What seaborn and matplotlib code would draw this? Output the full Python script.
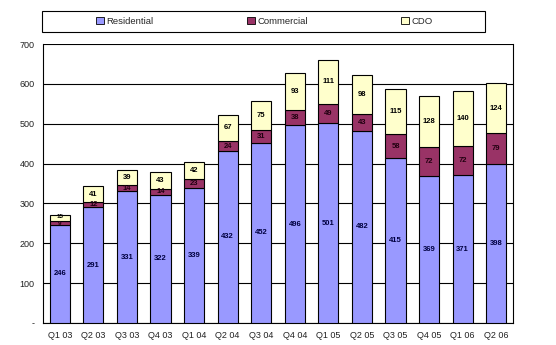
import matplotlib
matplotlib.use("Agg")
import matplotlib.pyplot as plt
import seaborn as sns
import pandas as pd
import numpy as np
from matplotlib.patches import Rectangle, Patch

quarters = ["Q1 03", "Q2 03", "Q3 03", "Q4 03", "Q1 04", "Q2 04", "Q3 04",
            "Q4 04", "Q1 05", "Q2 05", "Q3 05", "Q4 05", "Q1 06", "Q2 06"]
residential = [246, 291, 331, 322, 339, 432, 452, 496, 501, 482, 415, 369, 371, 398]
commercial = [9, 12, 14, 14, 23, 24, 31, 38, 49, 43, 58, 72, 72, 79]
cdo = [15, 41, 39, 43, 42, 67, 75, 93, 111, 98, 115, 128, 140, 124]
yticks = [0, 100, 200, 300, 400, 500, 600, 700]
ytick_labels = ["-", "100", "200", "300", "400", "500", "600", "700"]

sns.set_theme(style="white")
plt.rcParams['font.family'] = ['Liberation Sans', 'DejaVu Sans']

df = pd.DataFrame({"quarter": quarters, "Residential": residential,
                   "Commercial": commercial, "CDO": cdo})
df["b2"] = df["Residential"]
df["b3"] = df["Residential"] + df["Commercial"]

fig = plt.figure(figsize=(5.56, 3.45), dpi=100)
ax = fig.add_axes([43/556, 1-323/345, (513-43)/556, (323-44)/345])

colors = {"Residential": "#9999FF", "Commercial": "#993366", "CDO": "#FFFFCC"}
w = 0.6
sns.barplot(data=df, x="quarter", y="Residential", color=colors["Residential"],
            edgecolor="black", linewidth=0.8, width=w, saturation=1, ax=ax, zorder=3)
sns.barplot(data=df, x="quarter", y="Commercial", bottom=df["b2"], color=colors["Commercial"],
            edgecolor="black", linewidth=0.8, width=w, saturation=1, ax=ax, zorder=3)
sns.barplot(data=df, x="quarter", y="CDO", bottom=df["b3"], color=colors["CDO"],
            edgecolor="black", linewidth=0.8, width=w, saturation=1, ax=ax, zorder=3)

for i in range(len(quarters)):
    r, c, d = residential[i], commercial[i], cdo[i]
    small = c < 12
    fs_c = 5.5 if not small else 4.5
    fs_d = 5.5 if d >= 20 else 4.5
    yc = r + c/2 if not small else r + c*0.3
    yd = r + c + d/2 if d >= 20 else r + c + d*0.8
    ax.text(i, r/2, str(r), ha="center", va="center", fontsize=5.5,
            fontweight="bold", color="#000040", zorder=4)
    ax.text(i, yc, str(c), ha="center", va="center", fontsize=fs_c,
            fontweight="bold", color="#200010", zorder=4)
    ax.text(i, yd, str(d), ha="center", va="center", fontsize=fs_d,
            fontweight="bold", color="black", zorder=4)

ax.set_ylim(0, 700)
ax.set_xlim(-0.5, len(quarters) - 0.5)
ax.set_yticks(yticks)
ax.set_yticklabels(ytick_labels, fontsize=6.5, color="#222222")
ax.set_xticks(range(len(quarters)))
ax.set_xticklabels(quarters, fontsize=6.5, color="#222222")
ax.set_xticks(np.arange(-0.5, len(quarters)), minor=True)
ax.tick_params(axis="x", which="major", length=0, pad=6)
ax.tick_params(axis="x", which="minor", length=3, width=0.8, color="black", direction="out")
ax.tick_params(axis="y", length=3, width=0.8, color="black", direction="out", pad=3)
ax.set_xlabel("")
ax.set_ylabel("")
ax.yaxis.grid(True, color="black", linewidth=0.8, zorder=0)
ax.set_axisbelow(True)
for s in ["left", "bottom", "right"]:
    ax.spines[s].set_visible(True)
    ax.spines[s].set_color("black")
    ax.spines[s].set_linewidth(0.8)
ax.spines["top"].set_visible(False)

# legend frame
fig.patches.append(Rectangle((42/556, 1-32/345), (485-42)/556, 21/345,
                             transform=fig.transFigure, fill=False,
                             edgecolor="black", linewidth=0.8))
handles = [Patch(facecolor=colors[k], edgecolor="black", linewidth=0.6) for k in
           ["Residential", "Commercial", "CDO"]]
fig.legend(handles, ["Residential", "Commercial", "CDO"], ncol=3, mode="expand",
           loc="center left", bbox_to_anchor=(96/556, 1-32/345, (433-96)/556, 21/345),
           frameon=False, fontsize=6.8, handlelength=0.8, handleheight=0.8,
           handletextpad=0.3, borderpad=0, borderaxespad=0)

fig.savefig("out.png", dpi=100)
